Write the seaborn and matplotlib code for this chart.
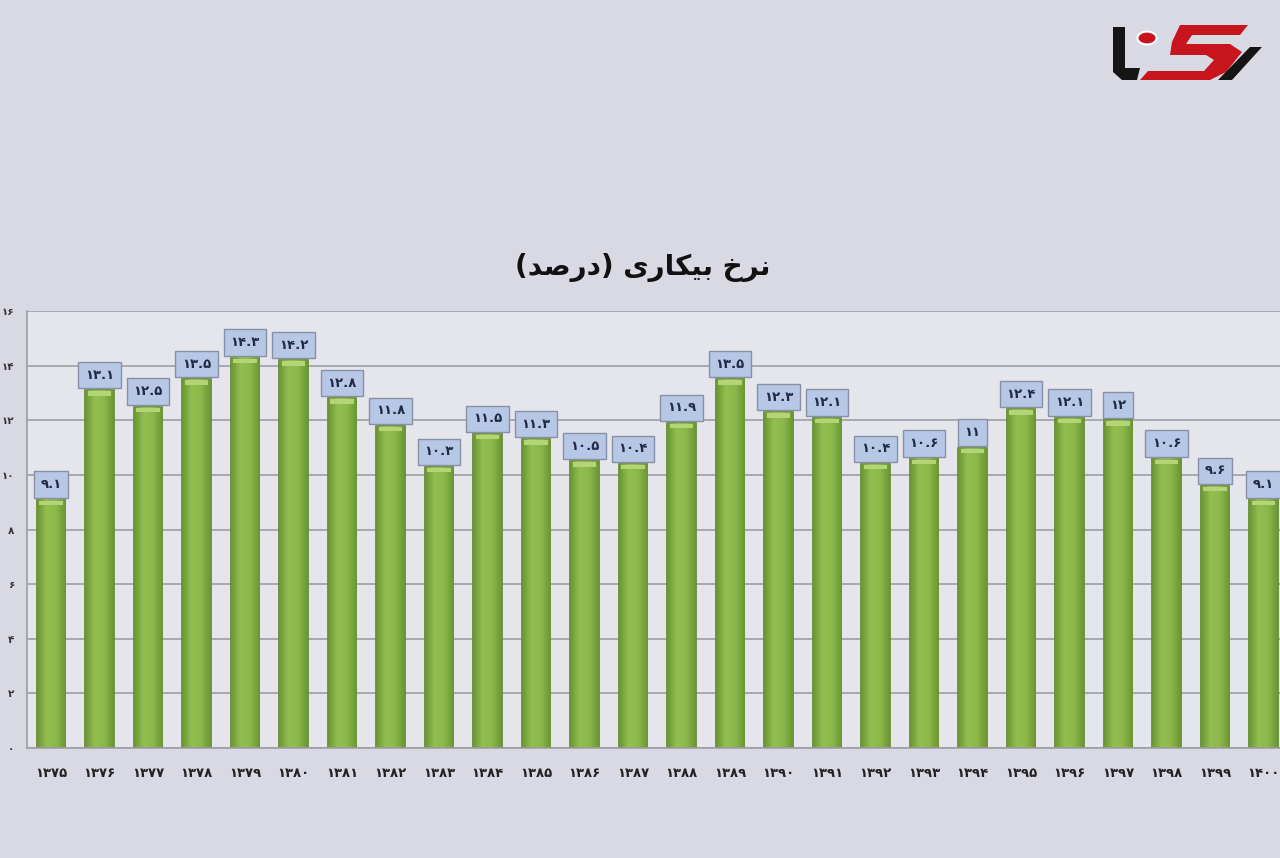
import matplotlib
matplotlib.use("Agg")
import matplotlib.pyplot as plt
import numpy as np
import pandas as pd
import seaborn as sns
from matplotlib.colors import LinearSegmentedColormap
from matplotlib.patches import Polygon, Circle

years = [1375, 1376, 1377, 1378, 1379, 1380, 1381, 1382, 1383, 1384, 1385, 1386, 1387,
         1388, 1389, 1390, 1391, 1392, 1393, 1394, 1395, 1396, 1397, 1398, 1399, 1400]
rates = [9.1, 13.1, 12.5, 13.5, 14.3, 14.2, 12.8, 11.8, 10.3, 11.5, 11.3, 10.5, 10.4,
         11.9, 13.5, 12.3, 12.1, 10.4, 10.6, 11.0, 12.4, 12.1, 12.0, 10.6, 9.6, 9.1]
y_ticks = [0, 2, 4, 6, 8, 10, 12, 14, 16]
title = "نرخ بیکاری (درصد)"

BG = "#d9d9e3"
PLOT_BG = "#e5e5ec"
GRID = "#9d9da6"

# contextual forms: isolated, final, initial, medial (two entries = right joining only)
FORMS = {
    "ن": "\ufee5\ufee6\ufee7\ufee8",
    "ر": "\ufead\ufeae",
    "خ": "\ufea5\ufea6\ufea7\ufea8",
    "ب": "\ufe8f\ufe90\ufe91\ufe92",
    "ی": "\ufbfc\ufbfd\ufbfe\ufbff",
    "ک": "\ufb8e\ufb8f\ufb90\ufb91",
    "ا": "\ufe8d\ufe8e",
    "د": "\ufea9\ufeaa",
    "ص": "\ufeb9\ufeba\ufebb\ufebc",
}
MIRROR = {"(": ")", ")": "("}


def shape_rtl(text):
    # matplotlib has no bidi/shaping, so pick presentation forms and reverse
    out = []
    for i, ch in enumerate(text):
        if ch not in FORMS:
            out.append(MIRROR.get(ch, ch))
            continue
        prev = text[i - 1] if i > 0 else ""
        nxt = text[i + 1] if i + 1 < len(text) else ""
        join_prev = prev in FORMS and len(FORMS[prev]) == 4
        join_next = len(FORMS[ch]) == 4 and nxt in FORMS
        forms = FORMS[ch]
        if join_prev and join_next:
            out.append(forms[3])
        elif join_prev:
            out.append(forms[1])
        elif join_next:
            out.append(forms[2])
        else:
            out.append(forms[0])
    return "".join(reversed(out))


def fa_num(v):
    s = f"{v:g}"
    return s.translate(str.maketrans("0123456789", "۰۱۲۳۴۵۶۷۸۹"))


def draw_logo(fig):
    # rough copy of the site logo, given in pixel coords of the 1280x858 image
    def px(pts):
        return [(x / 1280, 1 - y / 858) for x, y in pts]

    black, red = "#151515", "#c8141c"
    shapes = [
        (black, [(1113, 27), (1125, 27), (1125, 68), (1140, 68), (1137, 80), (1122, 80), (1113, 72)]),
        (red, [(1180, 25), (1248, 25), (1240, 35), (1192, 35), (1186, 44), (1230, 44), (1242, 52),
               (1226, 72), (1210, 80), (1140, 80), (1148, 71), (1204, 71), (1214, 60), (1206, 55),
               (1170, 55), (1172, 42)]),
        (black, [(1218, 80), (1232, 80), (1262, 47), (1250, 47)]),
    ]
    for color, pts in shapes:
        fig.patches.append(Polygon(px(pts), closed=True, transform=fig.transFigure,
                                   fc=color, ec="none"))
    fig.patches.append(Circle((1147 / 1280, 1 - 38 / 858), 0.0075, transform=fig.transFigure,
                              fc=red, ec="white", lw=1.5))


def plot_unemployment():
    sns.set_style("white")
    plt.rcParams["font.family"] = ["DejaVu Sans"]

    df = pd.DataFrame({"year": [fa_num(y) for y in years], "rate": rates})

    fig = plt.figure(figsize=(12.8, 8.58), dpi=100, facecolor=BG)
    ax = fig.add_axes([27 / 1280, 1 - 748 / 858, 1 - 27 / 1280, (748 - 311) / 858])
    ax.set_facecolor(PLOT_BG)

    sns.barplot(data=df, x="year", y="rate", color="#86b043", width=0.58,
                edgecolor="#5c852b", linewidth=1.2, saturation=1, ax=ax)

    # horizontal shading inside each bar plus a light cap on top
    shade = LinearSegmentedColormap.from_list("bar", ["#6b9533", "#93bf50", "#8cb84a", "#6b9533"])
    grad = np.linspace(0, 1, 64).reshape(1, -1)
    for bar in list(ax.patches):
        x0, w, h = bar.get_x(), bar.get_width(), bar.get_height()
        im = ax.imshow(grad, cmap=shade, aspect="auto", extent=(x0, x0 + w, 0, h),
                       zorder=2.5, interpolation="bicubic")
        im.set_clip_path(bar)
        ax.bar(x0 + w / 2, 0.16, bottom=h - 0.2, width=w * 0.82,
               color="#b4d478", linewidth=0, zorder=3)
    ax.set_aspect("auto")

    for i, v in enumerate(rates):
        ax.text(i, v + 0.55, fa_num(v), ha="center", va="center", fontsize=9.5,
                fontweight="bold", color="#1f2a44", zorder=5,
                bbox=dict(boxstyle="square,pad=0.5", fc="#b7c7e6", ec="#8790a6", lw=1))

    ax.set_ylim(0, 16)
    ax.set_xlim(-0.495, 25.34)
    ax.set_yticks(y_ticks)
    ax.set_yticklabels([fa_num(t) for t in y_ticks], fontsize=7.5, fontweight="bold", color="#333333")
    ax.tick_params(axis="y", length=0, pad=9)
    ax.tick_params(axis="x", length=0, pad=14, labelsize=9.5, labelcolor="#222222")
    for lab in ax.get_xticklabels():
        lab.set_fontweight("bold")
    ax.yaxis.grid(True, color=GRID, linewidth=1.2)
    ax.set_axisbelow(True)
    ax.set_xlabel("")
    ax.set_ylabel("")

    for side in ["top", "right"]:
        ax.spines[side].set_visible(False)
    ax.spines["left"].set_color(GRID)
    ax.spines["bottom"].set_color(GRID)
    ax.spines["left"].set_linewidth(1.2)
    ax.spines["bottom"].set_linewidth(1.2)

    fig.text(643 / 1280, 1 - 267 / 858, shape_rtl(title), ha="center", va="center",
             fontsize=20, fontweight="bold", color="#111111")

    draw_logo(fig)

    fig.savefig("out.png", dpi=100, facecolor=BG)


if __name__ == "__main__":
    plot_unemployment()
